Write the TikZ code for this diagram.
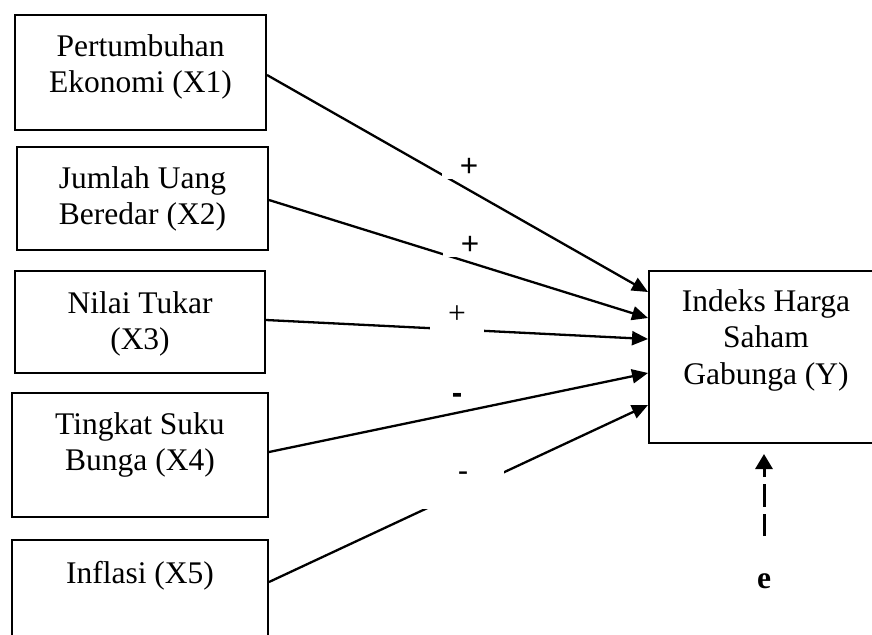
\documentclass[tikz,border=0pt]{standalone}
\usepackage{fontspec}
\setmainfont{Liberation Serif}
\newfontfamily\signsans{Liberation Sans}
\usetikzlibrary{arrows.meta}

\begin{document}
\begin{tikzpicture}[x=1pt,y=-1pt,
  box/.style={draw, line width=2pt, align=center, inner xsep=0pt, inner ysep=0pt,
    anchor=north, font=\fontsize{31.5}{36.5}\selectfont},
  link/.style={line width=2.3pt, -{Triangle[length=16pt,width=14pt]}},
  errlink/.style={line width=3pt, dash pattern=on 22.5pt off 7pt,
    -{Triangle[length=15pt,width=17pt]}},
  sign/.style={fill=white, inner sep=0pt, font=\fontsize{31.5}{36.5}\selectfont}
]
\useasboundingbox (0,0) rectangle (872,634);
\clip (0,0) rectangle (872,634);

% independent variables (text height runs from the top edge to the last baseline)
\node[box, minimum width=251pt, text height=77.5pt, text depth=37.5pt] (b1) at (140.5,14)
  {Pertumbuhan\\Ekonomi (X1)};
\node[box, minimum width=251pt, text height=77.5pt, text depth=25.5pt] (b2) at (142.5,146)
  {Jumlah Uang\\Beredar (X2)};
\node[box, minimum width=250pt, text height=78.5pt, text depth=23.5pt] (b3) at (140,270)
  {Nilai Tukar\\(X3)};
\node[box, minimum width=256pt, text height=77.5pt, text depth=46.5pt] (b4) at (140,392)
  {Tingkat Suku\\Bunga (X4)};
\node[box, minimum width=256pt, text height=43pt, text depth=130pt] (b5) at (140,539)
  {Inflasi (X5)};

% dependent variable
\node[box, minimum width=234pt, text height=113pt, text depth=59pt] (Y) at (766,270)
  {Indeks Harga\\Saham\\Gabunga (Y)};

% paths into Y
\draw[link] (b1.east |- 0,75)  -- (Y.west |- 0,292);
\draw[link] (b2.east |- 0,200) -- (Y.west |- 0,318);
\draw[link] (b3.east |- 0,320) -- (Y.west |- 0,339);
\draw[link] (b4.east |- 0,452) -- (Y.west |- 0,373);
\draw[link] (b5.east |- 0,582) -- (Y.west |- 0,405);

% signs of the effects
\node[sign, font=\fontsize{31.5}{36.5}\signsans, minimum width=54pt, minimum height=24pt] (s1) at (469,167) {+};
\node[sign, font=\fontsize{31.5}{36.5}\signsans, minimum width=54pt, minimum height=24pt] (s2) at (470,245) {+};
\node[sign, minimum width=54pt, minimum height=40pt] (s3) at (457,315) {+};
\node[sign, font=\fontsize{31.5}{36.5}\signsans\bfseries, minimum width=10pt, minimum height=10pt] (s4) at (457,398.6) {-};
\node[sign, font=\fontsize{31.5}{36.5}\signsans, minimum width=82pt, minimum height=65pt] (s5) at (463,476.6) {-};

% error term
\node[font=\fontsize{31.5}{36.5}\selectfont\bfseries, anchor=base, inner sep=0pt] (e) at (764,588) {e};
\coordinate (etail) at (764,536);
\coordinate (etip) at (764,454);
\draw[errlink] (etail) -- (etip);
\end{tikzpicture}
\end{document}
